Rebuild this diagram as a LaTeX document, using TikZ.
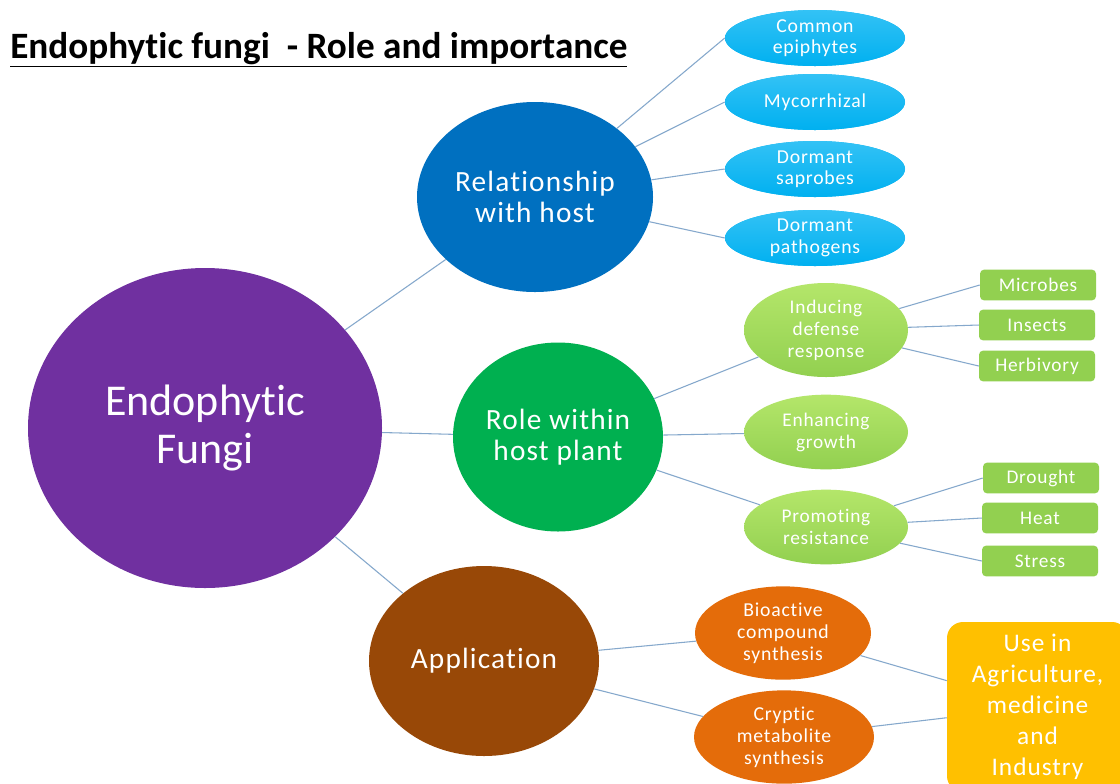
\documentclass[tikz,border=0pt]{standalone}
\usepackage{fontspec}
\setmainfont{Carlito}[Ligatures=NoCommon]
\newfontfamily\spacedfont[LetterSpace=4,Ligatures=NoCommon]{Carlito}
\usetikzlibrary{shapes.geometric}
\definecolor{purpleC}{HTML}{7030A0}
\definecolor{blueC}{HTML}{0070C0}
\definecolor{greenC}{HTML}{00B050}
\definecolor{brownC}{HTML}{984807}
\definecolor{lblueC}{HTML}{00B0F0}
\definecolor{lblueTop}{HTML}{33C2F5}
\definecolor{limeC}{HTML}{92D050}
\definecolor{limeTop}{HTML}{B4E66A}
\definecolor{orangeC}{HTML}{E46C0A}
\definecolor{yellowC}{HTML}{FFC000}
\definecolor{lineC}{HTML}{85A8CC}
\tikzset{
  ell/.style={ellipse, draw=none, align=center, text=white, inner sep=0pt},
  mainell/.style={ell, font=\fontsize{33}{36}\selectfont},
  midell/.style={ell, font=\fontsize{22}{23.5}\selectfont\spacedfont},
  skyell/.style={ell, fill=lblueC, top color=lblueTop, bottom color=lblueC, minimum width=135pt, minimum height=42pt, font=\fontsize{14.8}{16}\selectfont\spacedfont},
  limeell/.style={ell, top color=limeTop, bottom color=limeC, minimum width=123pt, font=\fontsize{14.5}{16.5}\selectfont\spacedfont},
  orell/.style={ell, fill=orangeC, minimum height=70pt, font=\fontsize{14.8}{16.5}\selectfont\spacedfont},
  gbox/.style={rectangle, rounded corners=3pt, fill=limeC, text=white, minimum width=87pt, minimum height=23pt, inner sep=0pt, font=\fontsize{14.5}{15}\selectfont\spacedfont},
  conn/.style={draw=lineC, line width=0.8pt},
}
\begin{document}
\begin{tikzpicture}[x=0.75pt,y=-0.75pt]
\useasboundingbox (0,0) rectangle (1120,783);
\fill[white] (0,0) rectangle (1120,783);

% title
\node[anchor=base west, inner sep=0pt, font=\fontsize{27.9}{30}\selectfont\bfseries] (title) at (10,58) {\underline{Endophytic fungi\ \ - Role and importance}};

% main nodes
\node[mainell, fill=purpleC, minimum width=265.5pt, minimum height=240pt] (fungi) at (205,428) {Endophytic\\Fungi};
\node[midell, fill=blueC, minimum width=177pt, minimum height=142.5pt] (rel) at (535,197) {Relationship\\with host};
\node[midell, fill=greenC, minimum width=157.5pt, minimum height=141.75pt] (role) at (558,437) {Role within\\host plant};
\node[midell, fill=brownC, minimum width=172.5pt, minimum height=142.5pt] (app) at (484,661) {Application};

% sky blue
\node[skyell] (epi) at (815,38) {Common\\epiphytes};
\node[skyell] (myc) at (815,102) {Mycorrhizal};
\node[skyell] (sap) at (815,169) {Dormant\\saprobes};
\node[skyell] (pat) at (815,238) {Dormant\\pathogens};

% lime
\node[limeell, minimum height=70.5pt] (ind) at (826,330) {Inducing\\defense\\response};
\node[limeell, minimum height=56pt] (enh) at (826,432) {Enhancing\\growth};
\node[limeell, minimum height=56pt] (pro) at (826,527) {Promoting\\resistance};

% green boxes
\node[gbox] (mic) at (1038,285) {Microbes};
\node[gbox] (ins) at (1037,325) {Insects};
\node[gbox] (her) at (1037,366) {Herbivory};
\node[gbox] (dro) at (1041,478) {Drought};
\node[gbox] (hea) at (1040,518) {Heat};
\node[gbox] (str) at (1040,561) {Stress};

% orange
\node[orell, minimum width=132pt] (bio) at (783,633) {Bioactive\\compound\\synthesis};
\node[orell, minimum width=135pt] (cry) at (784,737) {Cryptic\\metabolite\\synthesis};

% yellow box
\node[rectangle, rounded corners=12pt, fill=yellowC, text=white, minimum width=135.75pt, minimum height=127.5pt, inner sep=0pt, align=center, font=\fontsize{19}{23.2}\selectfont\spacedfont] (use) at (1037.5,707) {Use in\\Agriculture,\\medicine\\and\\Industry};

% connectors
\draw[conn] (fungi) -- (rel);
\draw[conn] (fungi) -- (role);
\draw[conn] (fungi) -- (app);
\draw[conn] (rel) -- (epi.west);
\draw[conn] (rel) -- (myc.west);
\draw[conn] (rel) -- (sap.west);
\draw[conn] (rel) -- (pat.west);
\draw[conn] (role) -- (ind);
\draw[conn] (role) -- (enh);
\draw[conn] (role) -- (pro);
\draw[conn] (ind) -- (mic.west);
\draw[conn] (ind) -- (ins.west);
\draw[conn] (ind) -- (her.west);
\draw[conn] (pro) -- (dro.west);
\draw[conn] (pro) -- (hea.west);
\draw[conn] (pro) -- (str.west);
\draw[conn] (app) -- (bio);
\draw[conn] (app) -- (cry);
\draw[conn] (bio) -- (use);
\draw[conn] (cry) -- (use);
\end{tikzpicture}
\end{document}
